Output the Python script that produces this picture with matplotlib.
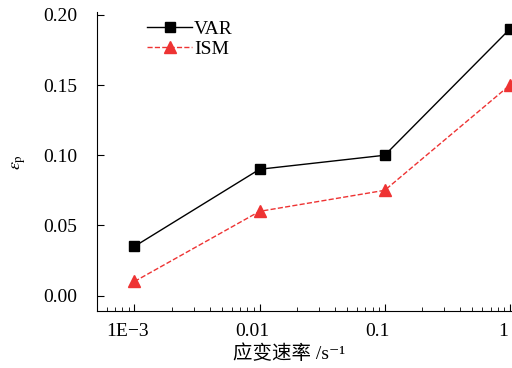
import numpy as np
import matplotlib
matplotlib.use('Agg')
from matplotlib import pyplot as plt
from matplotlib import transforms
from matplotlib.ticker import FixedLocator, LogLocator, NullFormatter

plt.rcParams['font.family'] = ['Liberation Serif', 'Noto Sans CJK SC', 'DejaVu Sans']
plt.rcParams['mathtext.fontset'] = 'stix'

rates = [0.001, 0.01, 0.1, 1]
rate_labels = ['1E\u22123', '0.01', '0.1', '1']
var_vals = [0.035, 0.09, 0.10, 0.19]
ism_vals = [0.01, 0.06, 0.075, 0.15]
y_ticks = [0.00, 0.05, 0.10, 0.15, 0.20]

fig = plt.figure(figsize=(5.12, 3.68), dpi=100)
ax = fig.add_axes([0.189, 0.155, 0.809, 0.812])

ax.plot(rates, var_vals, '-s', color='black', lw=1, ms=7, label='VAR')
ax.plot(rates, ism_vals, '--^', color='#ee3333', lw=1, ms=8, label='ISM')

ax.set_xscale('log')
ax.set_xlim(5e-4, 1.02)
ax.set_ylim(-0.011, 0.202)
ax.xaxis.set_major_locator(FixedLocator(rates))
ax.set_xticklabels(rate_labels)
ax.xaxis.set_minor_locator(LogLocator(base=10, subs=np.arange(2, 10)))
ax.xaxis.set_minor_formatter(NullFormatter())
ax.set_yticks(y_ticks)
ax.set_yticklabels(['%.2f' % v for v in y_ticks])

for s in ['top', 'right']:
    ax.spines[s].set_visible(False)
ax.tick_params(which='major', direction='in', length=5, labelsize=14, color='black')
ax.tick_params(axis='y', pad=14)
ax.tick_params(axis='x', pad=9)
ax.tick_params(which='minor', direction='in', length=3)

# x tick labels sit a bit left of their ticks in the original
shift = transforms.ScaledTranslation(-7 / 100, 0, fig.dpi_scale_trans)
for lab in ax.get_xticklabels():
    lab.set_transform(lab.get_transform() + shift)

ax.set_xlabel('应变速率 /s\u207b\u00b9', fontsize=14)
ax.xaxis.set_label_coords(0.465, -0.11)
ax.set_ylabel(r'$\varepsilon_{\rm p}$', fontsize=13)
ax.yaxis.set_label_coords(-0.165, 0.5)

ax.legend(loc='upper left', bbox_to_anchor=(0.08, 1.03), frameon=False, fontsize=14,
          handlelength=2.3, handletextpad=0.1, labelspacing=0.1)

plt.savefig('out.png', dpi=100)
